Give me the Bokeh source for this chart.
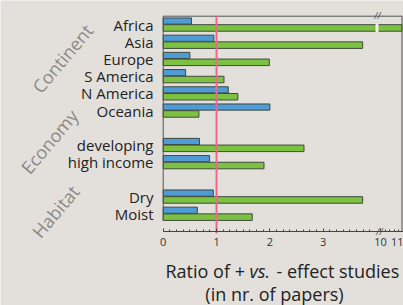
from bokeh.plotting import figure
from bokeh.models import Range1d, FixedTicker, ColumnDataSource
from bokeh.embed import file_html
from bokeh.resources import INLINE
from bokeh.core.properties import value
import numpy as np

# ---- data ----
groups = ["Continent", "Economy", "Habitat"]
group_categories = [
    ["Africa", "Asia", "Europe", "S America", "N America", "Oceania"],
    ["developing", "high income"],
    ["Dry", "Moist"],
]
series_blue = [0.53, 0.95, 0.50, 0.42, 1.22, 2.00, 0.68, 0.87, 0.94, 0.64]
series_green = [12.0, 3.74, 1.99, 1.14, 1.40, 0.67, 2.64, 1.89, 3.74, 1.67]
x_tick_values = [0, 1, 2, 3, 10, 11]
reference_ratio = 1

# ---- layout constants (pixels of the 403x305 canvas) ----
W, H = 403, 305
PX_UNIT = 53.33          # px per ratio unit, left of the break
X0_PX = 162.7            # pixel of ratio 0
SLOT_PX = 17.2           # px between category rows
ROW0_PX = 24.0           # pixel of the first row
AXIS_PX = 231.0          # pixel of the x axis line


def ux(px):
    return (px - X0_PX) / PX_UNIT


def uy(py):
    return (py - ROW0_PX) / SLOT_PX


BREAK_LO = 4.0
U_TEN = ux(380)
U_PER_UNIT_HI = 22.5 / PX_UNIT
U_BOX = ux(401.5)


def to_axis(v):
    if v <= BREAK_LO:
        return v
    return U_TEN + (v - 10) * U_PER_UNIT_HI


categories, slots = [], []
s = 0
for cats in group_categories:
    for c in cats:
        categories.append(c)
        slots.append(s)
        s += 1
    s += 1

BG = "#e3e0dc"
BLUE = "#4f9bd6"
GREEN = "#7dc143"
EDGE = "#3f4a3c"
PINK = "#f0668f"
BOX = "#555555"
FONT = "Open Sans"

p = figure(width=W, height=H, output_backend="svg", toolbar_location=None,
           title=None,
           x_range=Range1d(ux(0), ux(W)), y_range=Range1d(uy(H), uy(0)),
           min_border_left=0, min_border_right=0, min_border_top=0, min_border_bottom=0)
p.background_fill_color = BG
p.border_fill_color = BG
p.outline_line_color = None
p.xgrid.visible = False
p.ygrid.visible = False
p.yaxis.visible = False

src = ColumnDataSource(dict(
    y_blue=[sl - 0.2 for sl in slots],
    y_green=[sl + 0.2 for sl in slots],
    blue=[to_axis(v) for v in series_blue],
    green=[min(to_axis(v), U_BOX) for v in series_green],
))
p.hbar(y="y_blue", left=0, right="blue", height=0.36, source=src,
       fill_color=BLUE, line_color=EDGE, line_width=1)
p.hbar(y="y_green", left=0, right="green", height=0.38, source=src,
       fill_color=GREEN, line_color=EDGE, line_width=1)

# gap where the off-scale bar crosses the axis break
off = [i for i, v in enumerate(series_green) if v > BREAK_LO]
for i in off:
    p.rect(x=[ux(376.5)], y=[slots[i] + 0.2], width=0.055, height=0.5,
           fill_color="#f3f1ee", line_color=None)

# plot box: top, left (stops above the axis), right
box_top = uy(15.7)
p.segment(x0=[0, 0, U_BOX], y0=[box_top, box_top, box_top],
          x1=[U_BOX, 0, U_BOX], y1=[box_top, uy(220), uy(AXIS_PX)],
          line_color=BOX, line_width=1)

# reference line at ratio 1
p.segment(x0=[to_axis(reference_ratio)], y0=[box_top], x1=[to_axis(reference_ratio)],
          y1=[uy(AXIS_PX + 2)], line_color=PINK, line_width=2)

# category labels
p.text(x=[ux(153)] * len(slots), y=slots, text=categories,
       text_align="right", text_baseline="middle",
       text_font=value(FONT), text_font_size="15px", text_color="#222222")

# group labels (rotated)
group_px = [(62, 58), (49, 141), (55, 211)]
p.text(x=[ux(g[0]) for g in group_px], y=[uy(g[1]) for g in group_px], text=groups,
       angle=np.deg2rad(50), text_align="center", text_baseline="middle",
       text_font=value(FONT), text_font_size="18px", text_color="#8b8886")

# break marks
p.text(x=[ux(377), ux(379)], y=[uy(14.5), uy(AXIS_PX)], text=["//", "//"],
       text_align="center", text_baseline="middle", text_font=value(FONT),
       text_font_size="9px", text_font_style="italic", text_color="#444444")

# x axis drawn at a fixed location inside the canvas
xa = p.xaxis[0]
xa.fixed_location = uy(AXIS_PX)
xa.bounds = (0, to_axis(11))
major = [to_axis(v) for v in x_tick_values]
minor = list(np.arange(0, 4.0, 0.125)) + [to_axis(v) for v in (10.2, 10.4, 10.6, 10.8)]
xa.ticker = FixedTicker(ticks=major, minor_ticks=minor)
xa.major_label_overrides = {to_axis(v): str(v) for v in x_tick_values}
xa.axis_line_color = "#444444"
xa.major_tick_in = 3
xa.major_tick_out = 0
xa.minor_tick_in = 2
xa.minor_tick_out = 0
xa.major_tick_line_color = "#444444"
xa.minor_tick_line_color = "#444444"
xa.major_label_standoff = 6
xa.major_label_text_font = FONT
xa.major_label_text_font_size = "11px"
xa.major_label_text_color = "#333333"

# axis title (with italic "vs.")
TITLE_KW = dict(text_baseline="middle", text_font=value(FONT),
                text_font_size="18px", text_color="#222222")
p.text(x=[ux(165)], y=[uy(270)], text=["Ratio of +"], text_align="left", **TITLE_KW)
p.text(x=[ux(249)], y=[uy(270)], text=["vs."], text_align="left",
       text_font_style="italic", **TITLE_KW)
p.text(x=[ux(276)], y=[uy(270)], text=["- effect studies"], text_align="left", **TITLE_KW)
p.text(x=[ux(274)], y=[uy(293)], text=["(in nr. of papers)"], text_align="center", **TITLE_KW)

open("out.html", "w").write(file_html(p, INLINE))
